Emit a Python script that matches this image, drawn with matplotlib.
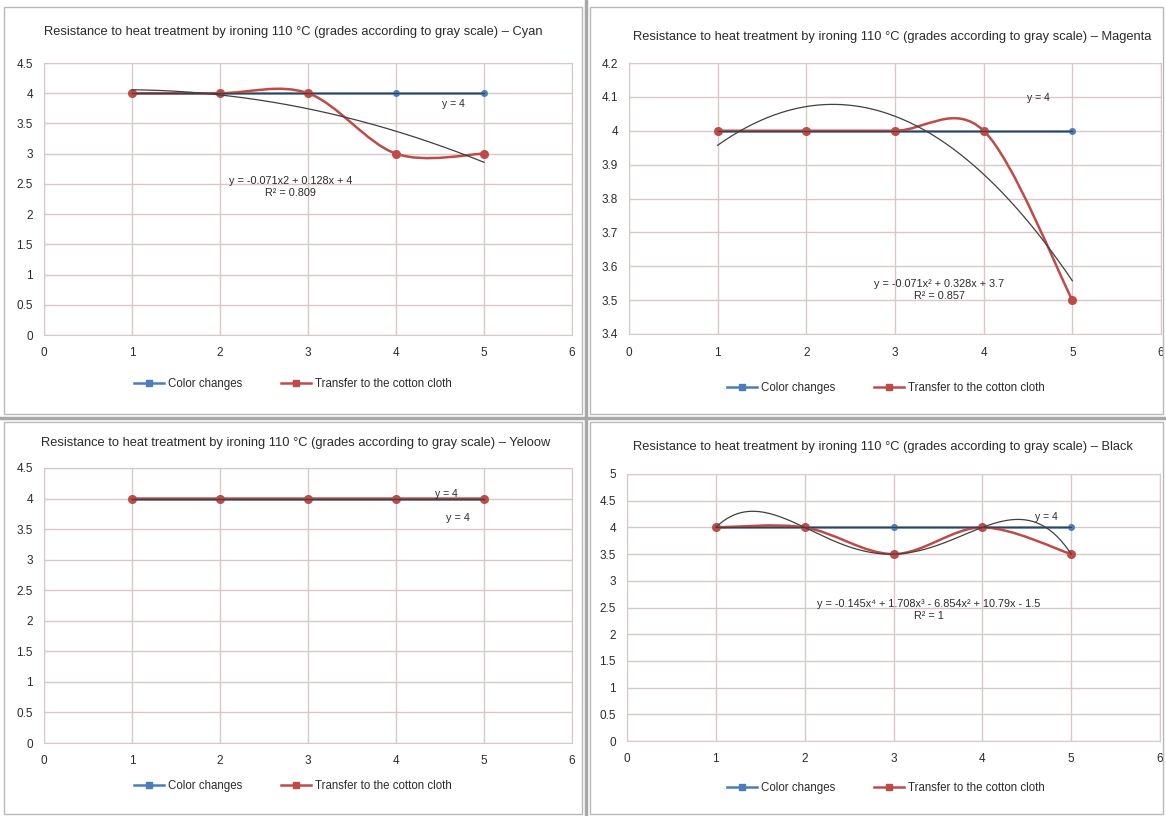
import numpy as np
import matplotlib
matplotlib.use('Agg')
import matplotlib.pyplot as plt
from matplotlib.path import Path
from matplotlib.patches import PathPatch, Rectangle
from matplotlib.lines import Line2D

plt.rcParams['font.family'] = ['Liberation Sans', 'DejaVu Sans']

# data
x_grades = [1, 2, 3, 4, 5]

cyan_color      = [4, 4, 4, 4, 4]
cyan_transfer   = [4, 4, 4, 3, 3]
magenta_color    = [4, 4, 4, 4, 4]
magenta_transfer = [4, 4, 4, 4, 3.5]
yellow_color    = [4, 4, 4, 4, 4]
yellow_transfer = [4, 4, 4, 4, 4]
black_color     = [4, 4, 4, 4, 4]
black_transfer  = [4, 4, 3.5, 4, 3.5]

panel_names = ['Cyan', 'Magenta', 'Yeloow', 'Black']
trend_order = [2, 2, 1, 4]
y_limits = [(0, 4.5, 0.5), (3.4, 4.2, 0.1), (0, 4.5, 0.5), (0, 5, 0.5)]

eq_texts = [
	'y = -0.071x2 + 0.128x + 4\nR² = 0.809',
	'y = -0.071x² + 0.328x + 3.7\nR² = 0.857',
	'y = 4',
	'y = -0.145x⁴ + 1.708x³ - 6.854x² + 10.79x - 1.5\nR² = 1',
]
eq_pos  = [(2.8, 2.45), (3.5, 3.53), (4.7, 3.68), (3.4, 2.45)]
y4_pos  = [(4.65, 3.82), (4.62, 4.097), (4.57, 4.07), (4.72, 4.19)]

title_fmt = 'Resistance to heat treatment by ironing 110 °C (grades according to gray scale) – {}'

BLUE  = '#4a7ebb'
RED   = '#be4b48'
TREND = '#404040'
GRID  = '#d8c9c9'
TXT   = '#2b2b2b'

W, H = 1166, 816
fig = plt.figure(figsize=(W / 100, H / 100), dpi=100)

############################################################################
# panel frames
#
boxes = [(4, 7, 578, 407), (590, 7, 573, 407), (4, 422, 578, 392), (590, 422, 573, 392)]
for bx, by, bw, bh in boxes:
	fig.patches.append(Rectangle((bx / W, 1 - (by + bh) / H), bw / W, bh / H,
		transform=fig.transFigure, fill=False, edgecolor='#b8b8b8', lw=1.0))
fig.add_artist(Line2D([586 / W, 586 / W], [0, 1], color='#a8a8a8', lw=2.5))
fig.add_artist(Line2D([0, 1], [1 - 418 / H, 1 - 418 / H], color='#a8a8a8', lw=2.5))

# axes rectangles in pixels: left, right, top, bottom
ax_px = [(44, 572, 63, 335), (629, 1161, 63, 334), (44, 572, 468, 743), (627, 1160, 474, 741)]
title_px = [(293, 32), (892, 37), (296, 443), (883, 447)]
legend_px = [(293, 384), (886, 388), (293, 786), (886, 788)]

series = [
	(cyan_color, cyan_transfer),
	(magenta_color, magenta_transfer),
	(yellow_color, yellow_transfer),
	(black_color, black_transfer),
]


def smooth_path(xs, ys):
	# excel style smoothed line: bezier with catmull-rom control points
	p = np.column_stack([xs, ys]).astype(float)
	ext = np.vstack([p[0], p, p[-1]])
	verts = [p[0]]
	codes = [Path.MOVETO]
	for i in range(len(p) - 1):
		c1 = ext[i + 1] + (ext[i + 2] - ext[i]) / 6
		c2 = ext[i + 2] - (ext[i + 3] - ext[i + 1]) / 6
		verts += [c1, c2, ext[i + 2]]
		codes += [Path.CURVE4] * 3
	return Path(verts, codes)


for k in range(4):
	l, r, t, b = ax_px[k]
	ax = fig.add_axes([l / W, 1 - b / H, (r - l) / W, (b - t) / H])
	ymin, ymax, ystep = y_limits[k]
	yt = np.round(np.arange(ymin, ymax + ystep / 2, ystep), 2)
	ax.set_xlim(0, 6)
	ax.set_ylim(ymin, ymax)
	ax.set_xticks(range(0, 7))
	ax.set_yticks(yt)
	ax.set_yticklabels(['%g' % v for v in yt])
	ax.grid(True, color=GRID, lw=1.0)
	ax.set_axisbelow(True)
	for s in ax.spines.values():
		s.set_color(GRID)
	ax.tick_params(length=0, labelsize=8.5, colors=TXT, pad=8)
	ax.tick_params(axis='x', pad=9)

	col, tra = series[k]
	ax.plot(x_grades, col, color=BLUE, lw=1.8, marker='o', ms=4, zorder=3, label='Color changes')
	ax.add_patch(PathPatch(smooth_path(x_grades, tra), fill=False, edgecolor=RED, lw=1.8, zorder=4))
	ax.plot(x_grades, tra, ls='none', color=RED, marker='o', ms=5.5, zorder=5)

	# trendlines
	xf = np.linspace(1, 5, 200)
	cf = np.polyfit(x_grades, col, 1)
	ax.plot(xf, np.polyval(cf, xf), color=TREND, lw=0.9, zorder=6)
	tf = np.polyfit(x_grades, tra, trend_order[k])
	ax.plot(xf, np.polyval(tf, xf), color=TREND, lw=0.9, zorder=6)

	ax.text(*y4_pos[k], 'y = 4', fontsize=7.5, color=TXT, ha='center', va='center', zorder=7)
	ax.text(*eq_pos[k], eq_texts[k], fontsize=7.8, color=TXT, ha='center', va='center',
		linespacing=1.3, zorder=7)

	handles = [
		Line2D([], [], color=BLUE, lw=1.8, marker='s', ms=4),
		Line2D([], [], color=RED, lw=1.8, marker='s', ms=4),
	]
	lx, ly = legend_px[k]
	ax.legend(handles, ['Color changes', 'Transfer to the cotton cloth'], loc='center',
		bbox_to_anchor=(lx / W, 1 - ly / H), bbox_transform=fig.transFigure, ncol=2,
		frameon=False, fontsize=8.3, handlelength=2.6, handletextpad=0.3,
		columnspacing=3.4, labelcolor=TXT)

	tx, ty = title_px[k]
	fig.text(tx / W, 1 - ty / H, title_fmt.format(panel_names[k]), ha='center', va='center',
		fontsize=9.3, color=TXT)

fig.savefig('out.png', dpi=100)
